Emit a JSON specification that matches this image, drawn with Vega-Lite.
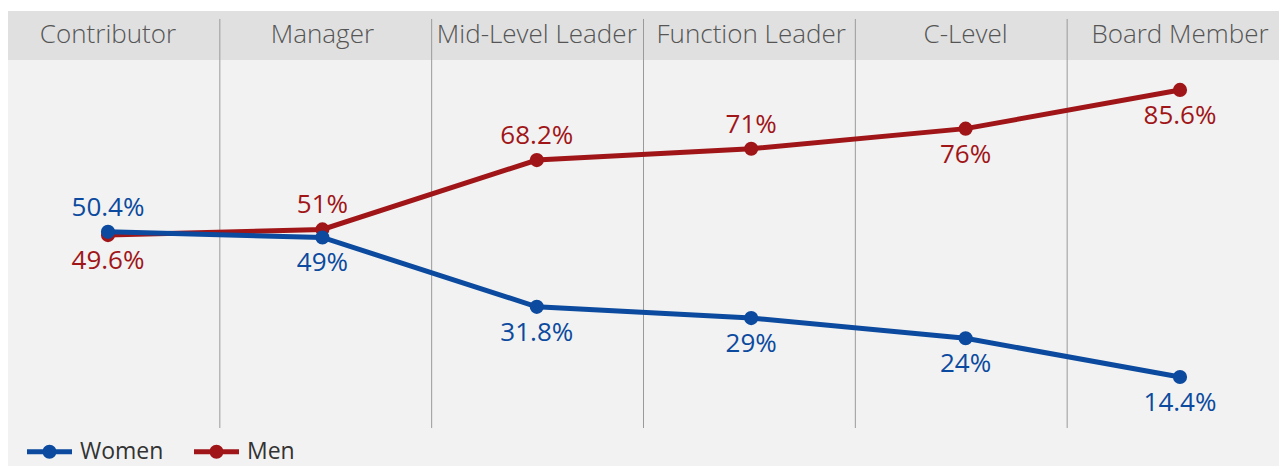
{
  "$schema": "https://vega.github.io/schema/vega-lite/v6.json",
  "width": 1271,
  "height": 455,
  "autosize": {"type": "none"},
  "padding": {"left": 8, "top": 11, "right": 0, "bottom": 0},
  "background": "white",
  "config": {"view": {"fill": "#f2f2f2", "stroke": null}, "font": "Open Sans"},
  "resolve": {"scale": {"x": "independent"}},
  "datasets": {
    "main": [
      {"category": "Contributor", "series": "Women", "value": 50.4},
      {"category": "Manager", "series": "Women", "value": 49},
      {"category": "Mid-Level Leader", "series": "Women", "value": 31.8},
      {"category": "Function Leader", "series": "Women", "value": 29},
      {"category": "C-Level", "series": "Women", "value": 24},
      {"category": "Board Member", "series": "Women", "value": 14.4},
      {"category": "Contributor", "series": "Men", "value": 49.6},
      {"category": "Manager", "series": "Men", "value": 51},
      {"category": "Mid-Level Leader", "series": "Men", "value": 68.2},
      {"category": "Function Leader", "series": "Men", "value": 71},
      {"category": "C-Level", "series": "Men", "value": 76},
      {"category": "Board Member", "series": "Men", "value": 85.6}
    ],
    "cats": [
      {"category": "Contributor"},
      {"category": "Manager"},
      {"category": "Mid-Level Leader"},
      {"category": "Function Leader"},
      {"category": "C-Level"},
      {"category": "Board Member"}
    ]
  },
  "layer": [
    {
      "data": {"values": [{}]},
      "mark": {"type": "rect", "color": "#e0e0e0"},
      "encoding": {
        "y": {"datum": 93.0, "type": "quantitative", "scale": {"domain": [-7.69, 105.18], "nice": false, "zero": false}, "axis": null},
        "y2": {"datum": 105.18}
      }
    },
    {
      "data": {"name": "cats"},
      "mark": {"type": "rule", "color": "#9a9a9a", "strokeWidth": 1},
      "encoding": {
        "x": {"field": "category", "type": "nominal", "bandPosition": 1, "scale": {"type": "band", "domain": ["Contributor", "Manager", "Mid-Level Leader", "Function Leader", "C-Level", "Board Member"], "paddingInner": 0, "paddingOuter": 0}, "axis": null},
        "y": {"datum": 1.74, "type": "quantitative"},
        "y2": {"datum": 103.2},
        "opacity": {"condition": {"test": "datum.category === 'Board Member'", "value": 0}, "value": 1}
      }
    },
    {
      "data": {"name": "cats"},
      "mark": {"type": "text", "fontSize": 26, "fontWeight": 300, "color": "#555555", "baseline": "middle", "align": "center"},
      "encoding": {
        "x": {"field": "category", "type": "nominal", "scale": {"type": "band", "domain": ["Contributor", "Manager", "Mid-Level Leader", "Function Leader", "C-Level", "Board Member"], "range": [-7.2, 1279.2], "paddingInner": 0, "paddingOuter": 0}, "axis": null},
        "y": {"datum": 99.2, "type": "quantitative"},
        "text": {"field": "category"}
      }
    },
    {
      "data": {"name": "main"},
      "transform": [{"filter": "datum.series === 'Men'"}],
      "mark": {"type": "line", "strokeWidth": 5, "point": {"filled": true, "size": 200, "opacity": 1}},
      "encoding": {
        "x": {"field": "category", "type": "nominal", "scale": {"type": "band", "domain": ["Contributor", "Manager", "Mid-Level Leader", "Function Leader", "C-Level", "Board Member"], "range": [-7.2, 1279.2], "paddingInner": 0, "paddingOuter": 0}, "axis": null},
        "y": {"field": "value", "type": "quantitative"},
        "color": {
          "field": "series", "type": "nominal",
          "scale": {"domain": ["Women", "Men"], "range": ["#0b4a9e", "#a01518"]},
          "legend": {
            "orient": "none", "direction": "horizontal", "title": null,
            "legendX": 19, "legendY": 418,
            "padding": 0,
            "symbolType": "M-1,-0.11H1V0.11H-1Z M0.31,0A0.31,0.31 0 1,1 -0.31,0A0.31,0.31 0 1,1 0.31,0Z",
            "symbolSize": 2025,
            "symbolStrokeWidth": 0,
            "labelFontSize": 23,
            "labelColor": "#333333",
            "labelFont": "Open Sans",
            "labelOffset": 8,
            "columnPadding": 30,
            "encode": {"symbols": {"update": {"fill": {"scale": "color", "field": "value"}, "stroke": {"value": "transparent"}, "opacity": {"value": 1}}}}
          }
        }
      }
    },
    {
      "data": {"name": "main"},
      "transform": [{"filter": "datum.series === 'Women'"}],
      "mark": {"type": "line", "strokeWidth": 5, "point": {"filled": true, "size": 200, "opacity": 1}},
      "encoding": {
        "x": {"field": "category", "type": "nominal", "scale": {"type": "band", "domain": ["Contributor", "Manager", "Mid-Level Leader", "Function Leader", "C-Level", "Board Member"], "range": [-7.2, 1279.2], "paddingInner": 0, "paddingOuter": 0}, "axis": null},
        "y": {"field": "value", "type": "quantitative"},
        "color": {"field": "series", "type": "nominal"}
      }
    },
    {
      "data": {"name": "main"},
      "transform": [
        {"filter": "(datum.series === 'Women' && datum.category === 'Contributor') || (datum.series === 'Men' && (datum.category === 'Manager' || datum.category === 'Mid-Level Leader' || datum.category === 'Function Leader'))"},
        {"calculate": "format(datum.value, '.3~r') + '%'", "as": "label"}
      ],
      "mark": {"type": "text", "fontSize": 26, "baseline": "middle", "align": "center", "dy": -24},
      "encoding": {
        "x": {"field": "category", "type": "nominal", "scale": {"type": "band", "domain": ["Contributor", "Manager", "Mid-Level Leader", "Function Leader", "C-Level", "Board Member"], "range": [-7.2, 1279.2], "paddingInner": 0, "paddingOuter": 0}, "axis": null},
        "y": {"field": "value", "type": "quantitative"},
        "text": {"field": "label"},
        "color": {"field": "series", "type": "nominal"}
      }
    },
    {
      "data": {"name": "main"},
      "transform": [
        {"filter": "!((datum.series === 'Women' && datum.category === 'Contributor') || (datum.series === 'Men' && (datum.category === 'Manager' || datum.category === 'Mid-Level Leader' || datum.category === 'Function Leader')))"},
        {"calculate": "format(datum.value, '.3~r') + '%'", "as": "label"}
      ],
      "mark": {"type": "text", "fontSize": 26, "baseline": "middle", "align": "center", "dy": 26},
      "encoding": {
        "x": {"field": "category", "type": "nominal", "scale": {"type": "band", "domain": ["Contributor", "Manager", "Mid-Level Leader", "Function Leader", "C-Level", "Board Member"], "range": [-7.2, 1279.2], "paddingInner": 0, "paddingOuter": 0}, "axis": null},
        "y": {"field": "value", "type": "quantitative"},
        "text": {"field": "label"},
        "color": {"field": "series", "type": "nominal"}
      }
    }
  ]
}
